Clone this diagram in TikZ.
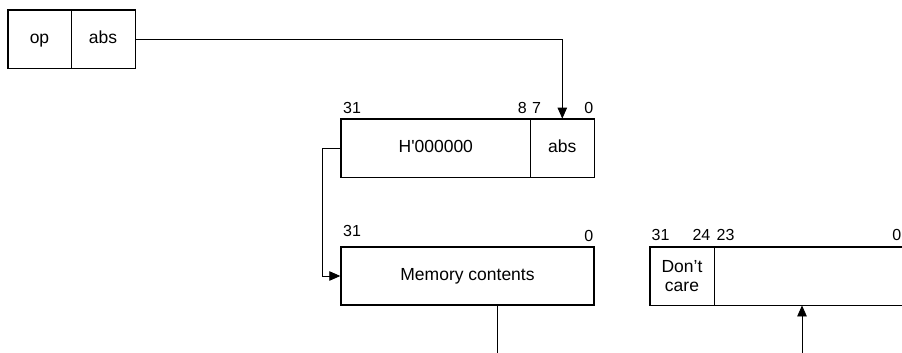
\documentclass[tikz,border=0pt]{standalone}
\usepackage{fontspec}
\setmainfont{Liberation Sans}
\usetikzlibrary{arrows.meta}

\begin{document}
\begin{tikzpicture}[
    x=1pt, y=-1pt,
    field/.style={rectangle, draw, line width=0.8pt, inner sep=0pt,
                  minimum height=58pt, align=center,
                  font=\fontsize{17.5}{19}\selectfont},
    word/.style={field, text height=12.5pt, text depth=3.5pt},
    frame/.style={line width=1.4pt},
    bit/.style={font=\fontsize{16}{18}\selectfont, inner sep=0pt},
    conn/.style={line width=0.8pt},
    arr/.style={-{Triangle[length=11pt, width=9.5pt]}},
  ]
  \useasboundingbox (0,0) rectangle (902,353);

  % ── Instruction ──────────────────────────────────
  \node[word, minimum width=63pt] (op)  at (39.5,39) {op};
  \node[word, minimum width=64pt] (abs) at (103,39)  {abs};
  \draw[frame] (op.north west) rectangle (abs.south east);

  % ── Address ──────────────────────────────────────
  \node[word, minimum width=189.7pt] (hval) at (435.8,148) {H\textquotesingle 000000};
  \node[word, minimum width=63.3pt]  (habs) at (562.3,148) {abs};
  \draw[frame] (hval.north west) rectangle (habs.south east);

  \node[bit, anchor=base west] (h31) at (343,113.3) {31};
  \node[bit, anchor=base east] (h8)  at (527,113.3) {8};
  \node[bit, anchor=base west] (h7)  at (532,113.3) {7};
  \node[bit, anchor=base east] (h0)  at (593.5,113.3) {0};

  % ── Memory ───────────────────────────────────────
  \node[word, frame, minimum width=253pt] (mem) at (467.5,276) {Memory contents};

  \node[bit, anchor=base west] (m31) at (343,236.7) {31};
  \node[bit, anchor=base east] (m0)  at (593.5,241.5) {0};

  % ── Register ─────────────────────────────────────
  \node[field, minimum width=64pt]  (dc)  at (682,276)   {Don’t\\care};
  \node[field, minimum width=189pt] (low) at (808.5,276) {};
  \draw[frame] (dc.north west) rectangle (low.south east);

  \node[bit, anchor=base west] (r31) at (651.5,240) {31};
  \node[bit, anchor=base east] (r24) at (710.5,240) {24};
  \node[bit, anchor=base west] (r23) at (716.5,240) {23};
  \node[bit, anchor=base east] (r0)  at (901.5,240) {0};

  % ── Connectors ───────────────────────────────────
  \draw[conn, arr] (abs.east) -| (habs.north);
  \draw[conn, arr] (hval.west) -- ++(-18,0) |- (mem.west);

  \coordinate (memout) at (497.7,353);
  \draw[conn] (mem.south -| memout) -- (memout);

  \coordinate (lowin) at (802,353);
  \draw[conn, arr] (lowin) -- (lowin |- low.south);

\end{tikzpicture}
\end{document}
